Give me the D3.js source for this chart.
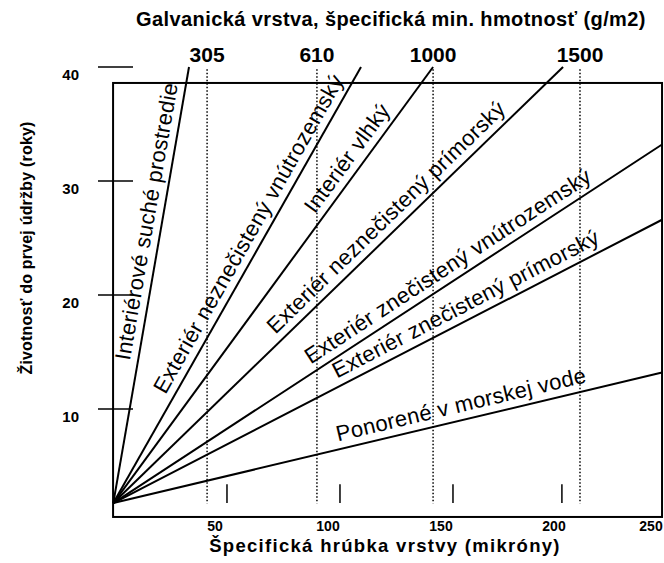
<!DOCTYPE html>
<html>
  <head>
    <meta charset="utf-8">
    <style>
      body { margin: 0; background: #fff; }
      text { font-family: "Liberation Sans", Arial, sans-serif; fill: #000; }
    </style>
  </head>
  <body>
    <script src="https://d3js.org/d3.v7.min.js"></script>
    <script>
      // galvanized coating: years to first maintenance vs coating thickness
      var series = ['Interiérové suché prostredie',
                    'Exteriér neznečistený vnútrozemský',
                    'Interiér vlhký',
                    'Exteriér neznečistený prímorský',
                    'Exteriér znečistený vnútrozemský',
                    'Exteriér znečistený prímorský',
                    'Ponorené v morskej vode'];
      var startMicrons = 5, startYears = 1.75;
      var endMicrons = [38.5, 114.6, 146.5, 204, 247.8, 247.8, 247.8];
      var endYears = [40, 40, 40, 40, 33.2, 26.6, 13.2];

      var xTicks = [50, 100, 150, 200, 250];
      var yTicks = [10, 20, 30, 40];
      var massLabels = ['305', '610', '1000', '1500'];
      var massMicrons = [46.5, 95.1, 146.5, 211.5];
      var markMicrons = [55.3, 105.3, 155.3, 203.5];

      // where each label sits along its line (fraction of length)
      var labelAt = [0.64, 0.60, 0.77, 0.63, 0.625, 0.655, 0.64];

      var W = 664, H = 563;
      var x = d3.scaleLinear().domain([0, 250]).range([102, 667]);
      var y = d3.scaleLinear().domain([0, 40]).range([523, 67]);

      var svg = d3.select('body').append('svg')
                  .attr('width', W).attr('height', H);

      // frame
      svg.append('rect')
         .attr('x', x(4.9)).attr('y', y(38.6))
         .attr('width', x(247.8) - x(4.9))
         .attr('height', y(0.53) - y(38.6))
         .attr('fill', 'none').attr('stroke', '#000').attr('stroke-width', 2);

      // y ticks: short bars crossing the left edge
      svg.selectAll('line.ytick').data(yTicks).enter().append('line')
         .attr('class', 'ytick')
         .attr('x1', 98).attr('x2', 133)
         .attr('y1', function (d) { return y(d); })
         .attr('y2', function (d) { return y(d); })
         .attr('stroke', '#000').attr('stroke-width', 1.5);
      svg.selectAll('text.ytick').data(yTicks).enter().append('text')
         .attr('class', 'ytick')
         .attr('x', 79).attr('y', function (d) { return y(d) + 13; })
         .attr('text-anchor', 'end')
         .style('font', 'bold 15px "Liberation Sans", Arial, sans-serif')
         .text(function (d) { return d; });

      // x tick labels
      svg.selectAll('text.xtick').data(xTicks).enter().append('text')
         .attr('class', 'xtick')
         .attr('x', function (d) { return Math.min(x(d), 651); })
         .attr('y', 531)
         .attr('text-anchor', 'middle')
         .style('font', 'bold 14px "Liberation Sans Narrow", "Liberation Sans", Arial, sans-serif')
         .text(function (d) { return d; });

      // dotted mass lines and their labels on top
      svg.selectAll('line.mass').data(massMicrons).enter().append('line')
         .attr('class', 'mass')
         .attr('x1', function (d) { return x(d); })
         .attr('x2', function (d) { return x(d); })
         .attr('y1', y(39.8)).attr('y2', y(1.7))
         .attr('stroke', '#000').attr('stroke-width', 1.5)
         .attr('stroke-dasharray', '1.5,2');
      svg.selectAll('text.mass').data(massLabels).enter().append('text')
         .attr('class', 'mass')
         .attr('x', function (d, i) { return x(massMicrons[i]); })
         .attr('y', 62)
         .attr('text-anchor', 'middle')
         .style('font', 'bold 21px "Liberation Sans", Arial, sans-serif')
         .text(function (d) { return d; });

      // short marks near the bottom
      svg.selectAll('line.mark').data(markMicrons).enter().append('line')
         .attr('class', 'mark')
         .attr('x1', function (d) { return x(d); })
         .attr('x2', function (d) { return x(d); })
         .attr('y1', y(1.75)).attr('y2', y(3.4))
         .attr('stroke', '#000').attr('stroke-width', 1.5);

      // the fan of lines
      var lines = series.map(function (name, i) {
        var x0 = x(startMicrons), y0 = y(startYears);
        var x1 = x(endMicrons[i]), y1 = y(endYears[i]);
        return { name: name, x0: x0, y0: y0, x1: x1, y1: y1, t: labelAt[i] };
      });

      svg.selectAll('line.series').data(lines).enter().append('line')
         .attr('class', 'series')
         .attr('x1', function (d) { return d.x0; })
         .attr('y1', function (d) { return d.y0; })
         .attr('x2', function (d) { return d.x1; })
         .attr('y2', function (d) { return d.y1; })
         .attr('stroke', '#000').attr('stroke-width', 2);

      svg.selectAll('text.series').data(lines).enter().append('text')
         .attr('class', 'series')
         .attr('transform', function (d) {
           var px = d.x0 + (d.x1 - d.x0) * d.t;
           var py = d.y0 + (d.y1 - d.y0) * d.t;
           var a = Math.atan2(d.y1 - d.y0, d.x1 - d.x0) * 180 / Math.PI;
           return 'translate(' + px + ',' + py + ') rotate(' + a + ')';
         })
         .attr('y', -8)
         .attr('text-anchor', 'middle')
         .style('font', '22px "Liberation Sans", Arial, sans-serif')
         .style('letter-spacing', '0.3px')
         .text(function (d) { return d.name; });

      // titles
      svg.append('text')
         .attr('x', 391).attr('y', 26)
         .attr('text-anchor', 'middle')
         .style('font', 'bold 20px "Liberation Sans", Arial, sans-serif')
         .style('letter-spacing', '0.4px')
         .text('Galvanická vrstva, špecifická min. hmotnosť (g/m2)');

      svg.append('text')
         .attr('x', 385).attr('y', 552)
         .attr('text-anchor', 'middle')
         .style('font', 'bold 18.5px "Liberation Sans", Arial, sans-serif')
         .style('letter-spacing', '1.3px')
         .text('Špecifická hrúbka vrstvy (mikróny)');

      svg.append('text')
         .attr('transform', 'translate(32,248) rotate(-90)')
         .attr('text-anchor', 'middle')
         .style('font', 'bold 16px "Liberation Sans", Arial, sans-serif')
         .style('letter-spacing', '0.2px')
         .text('Životnosť do prvej údržby (roky)');
    </script>
  </body>
</html>
